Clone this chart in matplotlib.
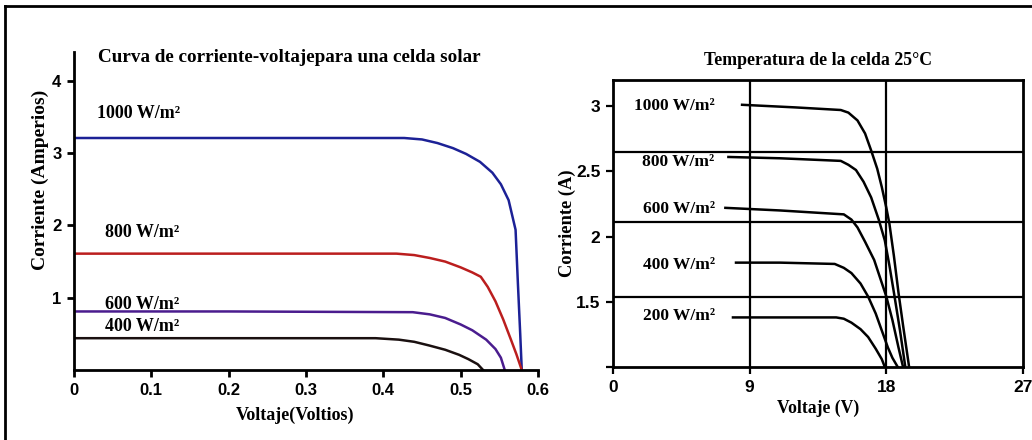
import matplotlib.pyplot as plt
from matplotlib.lines import Line2D

SERIF = 'Liberation Serif'
SANS = 'Liberation Sans'

# left chart: I-V curves of one cell (volts, amps)
v1000 = [0, 0.2, 0.427, 0.45, 0.47, 0.49, 0.507, 0.525, 0.541, 0.552, 0.562,
         0.571, 0.574, 0.577, 0.579]
i1000 = [3.21, 3.21, 3.21, 3.19, 3.14, 3.07, 2.99, 2.88, 2.73, 2.57, 2.35,
         1.94, 1.2, 0.5, 0.0]
v800 = [0, 0.2, 0.417, 0.44, 0.46, 0.48, 0.50, 0.515, 0.526, 0.535, 0.545,
        0.555, 0.565, 0.572, 0.579]
i800 = [1.61, 1.61, 1.61, 1.59, 1.55, 1.50, 1.42, 1.35, 1.29, 1.15, 0.95,
        0.70, 0.42, 0.22, 0.0]
v600 = [0, 0.2, 0.438, 0.46, 0.48, 0.50, 0.515, 0.533, 0.545, 0.552, 0.557]
i600 = [0.81, 0.81, 0.80, 0.77, 0.72, 0.63, 0.55, 0.42, 0.29, 0.17, 0.0]
v400 = [0, 0.2, 0.39, 0.42, 0.44, 0.459, 0.48, 0.498, 0.51, 0.522, 0.529]
i400 = [0.44, 0.44, 0.44, 0.42, 0.39, 0.34, 0.28, 0.21, 0.15, 0.08, 0.0]
left_series = [(v1000, i1000, '#1c2196', '1000 W/m²', 3.55),
               (v800, i800, '#bb1e1e', '800 W/m²', 1.90),
               (v600, i600, '#4a1c8e', '600 W/m²', 0.90),
               (v400, i400, '#1a1010', '400 W/m²', 0.60)]
left_xticks = [0, 0.1, 0.2, 0.3, 0.4, 0.5, 0.6]
left_xtick_labels = ['0', '0.1', '0.2', '0.3', '0.4', '0.5', '0.6']
left_yticks = [1, 2, 3, 4]

# right chart: module curves at 25 C (volts, amps)
r1000_v = [8.5, 12.0, 15.0, 15.5, 16.1, 16.6, 17.0, 17.4, 17.7, 18.0, 18.2,
           18.5, 18.8, 19.1, 19.5]
r1000_i = [3.01, 2.99, 2.97, 2.95, 2.89, 2.79, 2.66, 2.52, 2.38, 2.22, 2.10,
           1.85, 1.57, 1.32, 1.0]
r800_v = [7.6, 11.0, 15.0, 15.5, 16.0, 16.5, 17.0, 17.5, 17.9, 18.2, 18.5,
          18.9, 19.25]
r800_i = [2.61, 2.60, 2.58, 2.55, 2.51, 2.42, 2.30, 2.13, 1.97, 1.78, 1.57,
          1.28, 1.0]
r600_v = [7.4, 11.0, 15.2, 15.7, 16.1, 16.6, 17.2, 17.6, 18.0, 18.4, 18.8, 19.1]
r600_i = [2.22, 2.20, 2.17, 2.13, 2.07, 1.96, 1.82, 1.68, 1.54, 1.36, 1.15, 1.0]
r400_v = [8.1, 11.0, 14.6, 15.2, 15.7, 16.3, 16.8, 17.3, 17.7, 18.1, 18.4, 18.75]
r400_i = [1.80, 1.80, 1.79, 1.76, 1.72, 1.64, 1.54, 1.41, 1.28, 1.15, 1.07, 1.0]
r200_v = [7.9, 11.0, 14.7, 15.2, 15.7, 16.3, 16.8, 17.3, 17.7, 17.9]
r200_i = [1.38, 1.38, 1.38, 1.37, 1.34, 1.29, 1.23, 1.14, 1.06, 1.0]
right_series = [(r1000_v, r1000_i, '1000 W/m²', 3.0),
                (r800_v, r800_i, '800 W/m²', 2.57),
                (r600_v, r600_i, '600 W/m²', 2.21),
                (r400_v, r400_i, '400 W/m²', 1.78),
                (r200_v, r200_i, '200 W/m²', 1.39)]
right_xticks = [0, 9, 18, 27]
right_yticks = [1, 1.5, 2, 2.5, 3]
right_ytick_labels = ['', '1.5', '2', '2.5', '3']
grid_v = [9, 18]
grid_i = [1.54, 2.11, 2.65]

fig = plt.figure(figsize=(10.32, 4.4), dpi=100)
W, H = 1032.0, 440.0

# outer frame (top and left edges)
fig.add_artist(Line2D([5 / W, 1.0], [1 - 6 / H, 1 - 6 / H], color='black', lw=2))
fig.add_artist(Line2D([5 / W, 5 / W], [0, 1 - 6 / H], color='black', lw=2))

# ---- left chart ----
ax = fig.add_axes([74 / W, 1 - 370 / H, 464 / W, 318 / H])
for v, i, c, lab, ly in left_series:
    ax.plot(v, i, color=c, lw=1.8)
for v, i, c, lab, ly in left_series:
    x0 = 0.03 if lab.startswith('1000') else 0.04
    ax.text(x0, ly, lab, fontfamily=SERIF, fontweight='bold', fontsize=13,
            va='center', ha='left')
ax.set_xlim(0, 0.6)
ax.set_ylim(0, 4.4)
ax.set_xticks(left_xticks)
ax.set_xticklabels(left_xtick_labels)
ax.set_yticks(left_yticks)
for s in ['top', 'right']:
    ax.spines[s].set_visible(False)
for s in ['left', 'bottom']:
    ax.spines[s].set_linewidth(2)
ax.tick_params(width=2, length=5, labelsize=12, pad=4)
for t in ax.get_xticklabels() + ax.get_yticklabels():
    t.set_fontfamily(SANS)
    t.set_fontweight('bold')
fig.text(98 / W, 1 - 58 / H, 'Curva de corriente-voltajepara una celda solar',
         fontfamily=SERIF, fontweight='bold', fontsize=13.8, va='center', ha='left')
fig.text(40 / W, 1 - 180 / H, 'Corriente (Amperios)', rotation=90,
         fontfamily=SERIF, fontweight='bold', fontsize=14, va='center', ha='center')
fig.text(295 / W, 1 - 415 / H, 'Voltaje(Voltios)',
         fontfamily=SERIF, fontweight='bold', fontsize=13, va='center', ha='center')

# ---- right chart ----
ax2 = fig.add_axes([613 / W, 1 - 367 / H, 410 / W, 287 / H])
for g in grid_v:
    ax2.axvline(g, color='black', lw=1.6)
for g in grid_i:
    ax2.axhline(g, color='black', lw=1.6)
for v, i, lab, ly in right_series:
    ax2.plot(v, i, color='black', lw=1.8)
    ax2.text(6.7, ly, lab, fontfamily=SERIF, fontweight='bold', fontsize=12.5,
             va='center', ha='right')
ax2.set_xlim(0, 27)
ax2.set_ylim(1.0, 3.2)
ax2.set_xticks(right_xticks)
ax2.set_yticks(right_yticks)
ax2.set_yticklabels(right_ytick_labels)
for s in ax2.spines.values():
    s.set_linewidth(2)
ax2.tick_params(width=1.6, length=5, labelsize=12.5, pad=4)
for t in ax2.get_xticklabels() + ax2.get_yticklabels():
    t.set_fontfamily(SANS)
    t.set_fontweight('bold')
ax2.set_title('Temperatura de la celda 25°C', fontfamily=SERIF, fontweight='bold',
              fontsize=12.8, pad=11)
ax2.set_xlabel('Voltaje (V)', fontfamily=SERIF, fontweight='bold', fontsize=12.7)
ax2.set_ylabel('Corriente (A)', fontfamily=SERIF, fontweight='bold', fontsize=13.3,
               labelpad=0)

fig.savefig('out.png', dpi=100)
